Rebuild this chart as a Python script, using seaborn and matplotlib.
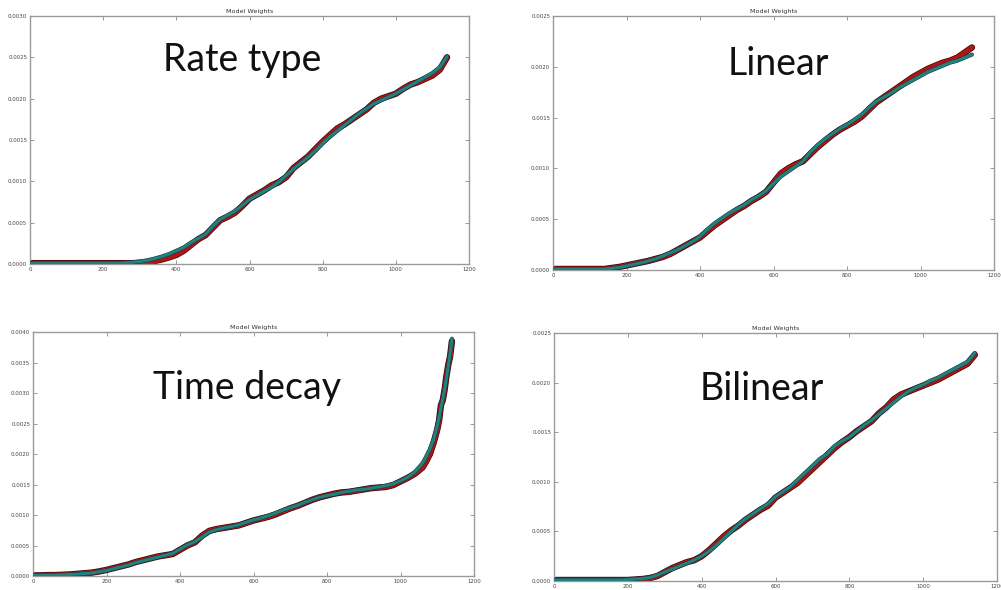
import numpy as np
import matplotlib
matplotlib.use("Agg")
import matplotlib.pyplot as plt
import matplotlib.patheffects as pe
import seaborn as sns
from matplotlib.ticker import MultipleLocator, FormatStrFormatter

sns.set_theme(style="white")
plt.rcParams['font.family'] = ['DejaVu Sans']

# ---------------- data (y values in units of 1e-4) ----------------
titles = ["Model Weights", "Model Weights", "Model Weights", "Model Weights"]
labels = ["Rate type", "Linear", "Time decay", "Bilinear"]

x_rate = [0, 20, 40, 60, 80, 100, 120, 140, 160, 180, 200, 220, 240, 260, 280, 300, 320, 340,
          360, 380, 400, 420, 440, 460, 480, 500, 520, 540, 560, 580, 600, 620, 640, 660, 680,
          700, 720, 740, 760, 780, 800, 820, 840, 860, 880, 900, 920, 940, 960, 980, 1000,
          1020, 1040, 1060, 1080, 1100, 1120, 1140]
rate_cyan = [0.1, 0.1, 0.1, 0.1, 0.1, 0.1, 0.1, 0.1, 0.1, 0.1, 0.1, 0.1, 0.1, 0.15, 0.2, 0.3, 0.45, 0.65,
             0.9, 1.2, 1.6, 2.0, 2.6, 3.1, 3.6, 4.6, 5.4, 5.9, 6.4, 7.1, 7.8, 8.3, 8.8, 9.3, 9.9,
             10.7, 11.5, 12.2, 12.9, 13.7, 14.6, 15.4, 16.1, 16.8, 17.5, 18.2, 18.8, 19.4, 19.8, 20.2, 20.6,
             21.1, 21.6, 22.1, 22.6, 23.1, 23.8, 25.1]
rate_red = [0.1, 0.1, 0.1, 0.1, 0.1, 0.1, 0.1, 0.1, 0.1, 0.1, 0.1, 0.1, 0.1, 0.1, 0.1, 0.15, 0.2, 0.35,
            0.55, 0.8, 1.1, 1.6, 2.3, 3.0, 3.5, 4.4, 5.3, 5.7, 6.2, 7.0, 7.9, 8.4, 8.9, 9.5, 9.9,
            10.5, 11.6, 12.3, 13.0, 13.9, 14.8, 15.6, 16.4, 16.9, 17.5, 18.1, 18.7, 19.5, 20.0, 20.3, 20.6,
            21.2, 21.7, 22.0, 22.4, 22.8, 23.5, 25.0]

x_lin = x_rate
lin_cyan = [0.1, 0.1, 0.1, 0.1, 0.1, 0.1, 0.1, 0.1, 0.15, 0.25, 0.4, 0.55, 0.7, 0.9, 1.1, 1.4, 1.7, 2.0,
            2.4, 2.8, 3.3, 4.0, 4.6, 5.1, 5.6, 6.0, 6.4, 6.9, 7.3, 7.8, 8.5, 9.2, 9.7, 10.2, 10.7,
            11.6, 12.3, 12.9, 13.4, 13.9, 14.3, 14.8, 15.3, 16.0, 16.6, 17.0, 17.4, 17.9, 18.3, 18.7, 19.1,
            19.5, 19.8, 20.1, 20.4, 20.6, 20.9, 21.2]
lin_red = [0.1, 0.1, 0.1, 0.1, 0.1, 0.1, 0.1, 0.1, 0.2, 0.3, 0.45, 0.6, 0.75, 0.9, 1.1, 1.3, 1.6, 2.0,
           2.4, 2.8, 3.2, 3.8, 4.4, 4.9, 5.4, 5.9, 6.3, 6.8, 7.2, 7.7, 8.6, 9.5, 10.0, 10.4, 10.7,
           11.4, 12.1, 12.7, 13.3, 13.8, 14.2, 14.6, 15.1, 15.8, 16.5, 17.0, 17.5, 18.0, 18.5, 19.0, 19.4,
           19.8, 20.1, 20.4, 20.6, 20.9, 21.4, 21.9]

x_time = [0, 20, 40, 60, 80, 100, 120, 140, 160, 180, 200, 220, 240, 260, 280, 300, 320, 340,
          360, 380, 400, 420, 440, 460, 480, 500, 520, 540, 560, 580, 600, 620, 640, 660, 680,
          700, 720, 740, 760, 780, 800, 820, 840, 860, 880, 900, 920, 940, 960, 980, 1000,
          1020, 1040, 1060, 1070, 1080, 1090, 1100, 1105, 1110, 1115, 1120, 1125, 1130, 1135, 1140]
time_cyan = [0.1, 0.1, 0.15, 0.15, 0.2, 0.25, 0.3, 0.4, 0.5, 0.7, 0.9, 1.2, 1.5, 1.8, 2.2, 2.5, 2.8, 3.1,
             3.4, 3.7, 4.4, 5.1, 5.6, 6.4, 7.2, 7.6, 7.9, 8.1, 8.4, 8.8, 9.2, 9.5, 9.9, 10.3, 10.8,
             11.2, 11.6, 12.1, 12.5, 12.9, 13.2, 13.4, 13.7, 13.9, 14.1, 14.2, 14.4, 14.6, 14.8, 15.1, 15.6,
             16.2, 17.1, 18.5, 19.6, 20.8, 22.4, 24.6, 26.0, 27.6, 29.0, 30.6, 32.4, 34.4, 36.5, 38.9]
time_red = [0.1, 0.1, 0.15, 0.15, 0.2, 0.25, 0.35, 0.45, 0.55, 0.75, 1.0, 1.3, 1.6, 1.9, 2.3, 2.6, 2.9, 3.2,
            3.4, 3.6, 4.3, 5.0, 5.5, 6.6, 7.4, 7.7, 7.9, 8.1, 8.3, 8.7, 9.1, 9.4, 9.7, 10.1, 10.6,
            11.1, 11.5, 12.0, 12.5, 12.9, 13.2, 13.5, 13.7, 13.8, 14.0, 14.2, 14.4, 14.5, 14.6, 14.9, 15.5,
            16.1, 16.8, 17.8, 18.8, 20.0, 21.8, 24.0, 25.5, 28.0, 28.8, 30.5, 32.8, 34.6, 36.0, 38.5]

x_bil = x_rate
bil_cyan = [0.1, 0.1, 0.1, 0.1, 0.1, 0.1, 0.1, 0.1, 0.1, 0.1, 0.15, 0.2, 0.25, 0.35, 0.6, 0.9, 1.2, 1.5,
            1.8, 2.1, 2.5, 3.0, 3.6, 4.3, 5.0, 5.7, 6.3, 6.8, 7.3, 7.8, 8.5, 9.0, 9.5, 10.2, 10.9,
            11.6, 12.3, 12.8, 13.6, 14.1, 14.5, 15.1, 15.7, 16.2, 16.8, 17.4, 18.0, 18.6, 19.1, 19.5, 19.8,
            20.2, 20.5, 20.9, 21.3, 21.7, 22.1, 23.0]
bil_red = [0.1, 0.1, 0.1, 0.1, 0.1, 0.1, 0.1, 0.1, 0.1, 0.1, 0.1, 0.15, 0.2, 0.3, 0.5, 0.9, 1.3, 1.6,
           1.9, 2.1, 2.5, 3.1, 3.8, 4.5, 5.1, 5.6, 6.2, 6.7, 7.2, 7.6, 8.4, 8.9, 9.4, 9.9, 10.6,
           11.3, 12.0, 12.7, 13.4, 14.0, 14.5, 15.1, 15.6, 16.1, 16.9, 17.5, 18.3, 18.8, 19.1, 19.4, 19.7,
           20.0, 20.3, 20.7, 21.1, 21.5, 21.9, 22.8]

panels = [
    (x_rate, rate_red, rate_cyan, 0.0030),
    (x_lin, lin_red, lin_cyan, 0.0025),
    (x_time, time_red, time_cyan, 0.0040),
    (x_bil, bil_red, bil_cyan, 0.0025),
]

# ---------------- layout ----------------
W, H = 1001, 590
boxes_px = [(30, 16, 469, 264), (553, 16, 994, 270), (33, 332, 474, 576), (554, 333, 997, 581)]
label_pos = [(0.483, 0.778), (0.512, 0.768), (0.486, 0.725), (0.470, 0.730)]

fig = plt.figure(figsize=(W / 100, H / 100), dpi=100)
fig.patch.set_facecolor("white")

for i, (bx, (xs, yr, yc, ymax)) in enumerate(zip(boxes_px, panels)):
    l, t, r, b = bx
    ax = fig.add_axes([l / W, 1 - b / H, (r - l) / W, (b - t) / H])
    yr_v = np.array(yr) * 1e-4
    yc_v = np.array(yc) * 1e-4
    sns.lineplot(x=xs, y=yr_v, ax=ax, color="#b01414", linewidth=3.6, sort=False, zorder=2,
                 solid_capstyle="round",
                 path_effects=[pe.Stroke(linewidth=4.6, foreground="#3a0606"), pe.Normal()])
    sns.lineplot(x=xs, y=yc_v, ax=ax, color="#22807f", linewidth=2.2, sort=False, zorder=3,
                 solid_capstyle="round",
                 path_effects=[pe.Stroke(linewidth=2.9, foreground="#123a3a"), pe.Normal()])
    ax.set_xlim(0, 1200)
    ax.set_ylim(0, ymax)
    ax.xaxis.set_major_locator(MultipleLocator(200))
    ax.yaxis.set_major_locator(MultipleLocator(0.0005))
    ax.yaxis.set_major_formatter(FormatStrFormatter("%.4f"))
    ax.tick_params(direction="in", length=3, width=0.6, color="#888888",
                   labelsize=3.9, labelcolor="#444444", pad=2,
                   top=True, right=True, bottom=True, left=True)
    for s in ax.spines.values():
        s.set_color("#9a9a9a")
        s.set_linewidth(1.0)
    ax.set_xlabel("")
    ax.set_ylabel("")
    ax.set_title(titles[i], fontsize=4.6, color="#333333", pad=2.5)
    lx, ly = label_pos[i]
    ax.text(lx, ly, labels[i], transform=ax.transAxes, ha="center", va="baseline",
            fontsize=27, family=["Lato", "DejaVu Sans"], color="#111111")

fig.savefig("out.png", dpi=100, facecolor="white")
